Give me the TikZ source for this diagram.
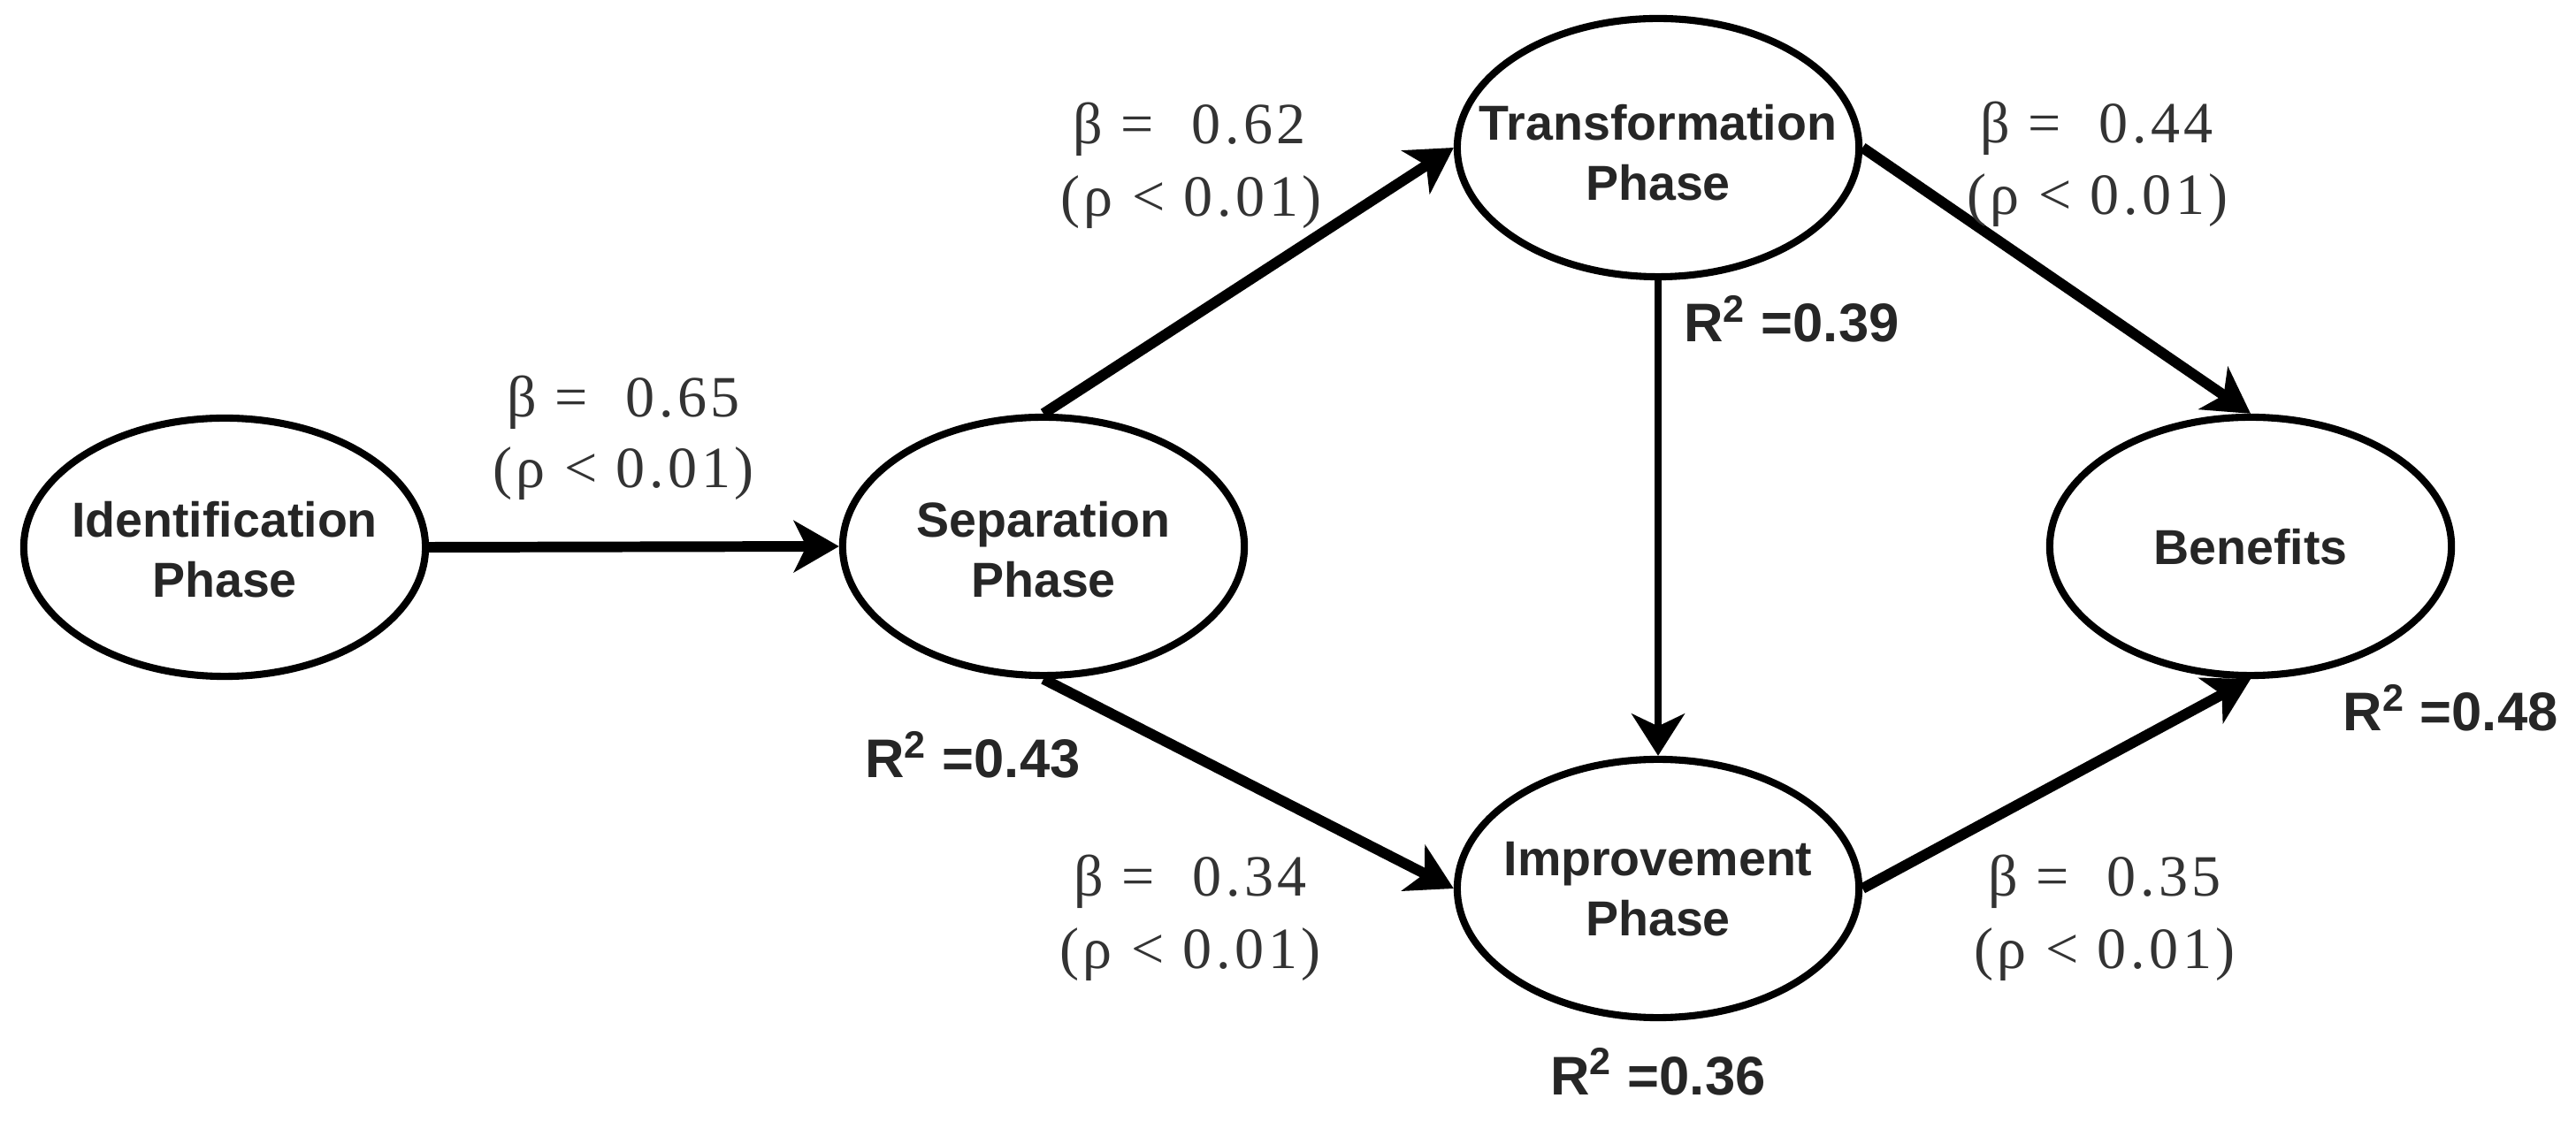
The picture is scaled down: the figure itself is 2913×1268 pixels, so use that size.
\documentclass[tikz,border=0pt]{standalone}
\usepackage{fontspec}
\setmainfont{Liberation Serif}
\newfontfamily\sansb{Liberation Sans}
\newfontfamily\betaf{Liberation Serif}[LetterSpace=7]
\usetikzlibrary{arrows.meta,shapes.geometric}
\begin{document}
\begin{tikzpicture}[x=0.01cm,y=-0.01cm,
  phase/.style={ellipse,draw=black,line width=2.3pt,minimum width=4.54cm,minimum height=2.92cm,inner sep=0pt},
  ptext/.style={align=center,font=\sansb\bfseries\fontsize{15.8}{19.4}\selectfont,text=black!85,inner sep=0pt},
  coef/.style={anchor=base,font=\betaf\fontsize{18.8}{22}\selectfont,text=black!80,inner sep=0pt},
  rsq/.style={anchor=base,font=\sansb\bfseries\fontsize{17.5}{20}\selectfont,text=black!85,inner sep=0pt},
  conn/.style={line width=3.4pt,-{Stealth[length=14.5pt,width=16.5pt,inset=4pt]}},
  connthin/.style={line width=2.3pt,-{Stealth[length=13.5pt,width=17pt,inset=4pt]}}
]
\useasboundingbox (0,0) rectangle (2913,1268);
% ellipses
\node[phase] (idn) at (254,619) {};
\node[phase] (sep) at (1180,618) {};
\node[phase] (trn) at (1875,167) {};
\node[phase] (imp) at (1875,1005) {};
\node[phase] (ben) at (2545,618) {};
% ellipse texts
\node[ptext] (idnt) at (254,622) {Identification\\Phase};
\node[ptext] (sept) at (1180,622) {Separation\\Phase};
\node[ptext] (trnt) at (1875,173) {Transformation\\Phase};
\node[ptext] (impt) at (1875,1006) {Improvement\\Phase};
\node[ptext] (bent) at (2545,619) {Benefits};
% connectors
\draw[conn] (idn.east) -- (sep.west);
\draw[conn] (sep.north) -- (trn.west);
\draw[conn] (sep.south) -- (imp.west);
\draw[connthin] (trn.south) -- (imp.north);
\draw[conn] (trn.east) -- (ben.north);
\draw[conn] (imp.east) -- (ben.south);
% coefficients
\node[coef] (b1) at (705,472) {β = \ 0.65};
\node[coef] (p1) at (705,552) {(ρ < 0.01)};
\node[coef] (b2) at (1345,163) {β = \ 0.62};
\node[coef] (p2) at (1347,245) {(ρ < 0.01)};
\node[coef] (b3) at (2371,162) {β = \ 0.44};
\node[coef] (p3) at (2372,243) {(ρ < 0.01)};
\node[coef] (b4) at (1346,1013) {β = \ 0.34};
\node[coef] (p4) at (1346,1095) {(ρ < 0.01)};
\node[coef] (b5) at (2380,1013) {β = \ 0.35};
\node[coef] (p5) at (2380,1095) {(ρ < 0.01)};
% R squared
\node[rsq] (r1) at (1100,880) {R\textsuperscript{2} =0.43};
\node[rsq] (r2) at (2026,387) {R\textsuperscript{2} =0.39};
\node[rsq] (r3) at (1875,1238) {R\textsuperscript{2} =0.36};
\node[rsq] (r4) at (2771,827) {R\textsuperscript{2} =0.48};
\end{tikzpicture}
\end{document}
